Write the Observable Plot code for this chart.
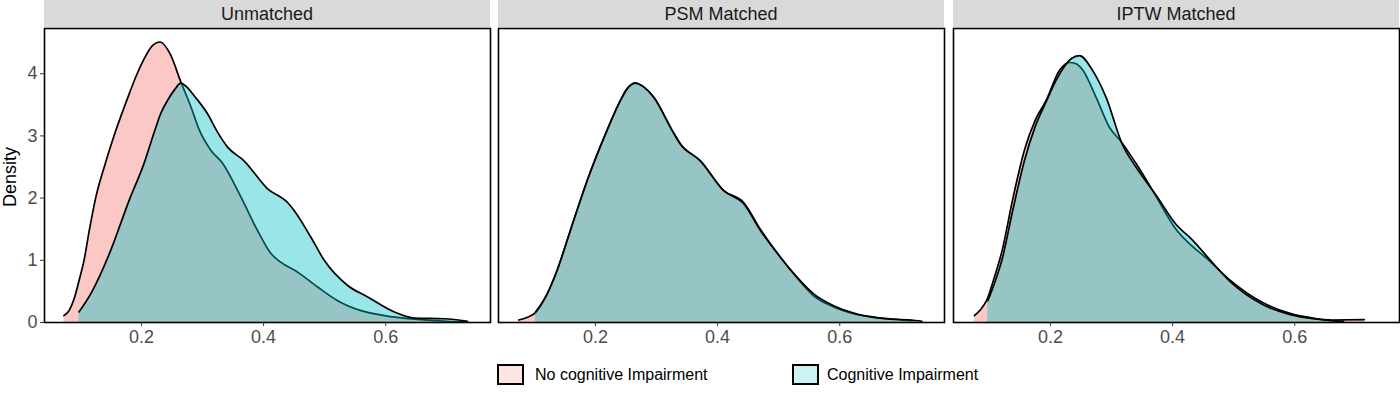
<!DOCTYPE html>
<html>
<head>
<meta charset="utf-8">
<script src="https://cdn.jsdelivr.net/npm/d3@7"></script>
<script src="https://cdn.jsdelivr.net/npm/@observablehq/plot@0.6"></script>
<style>
  html, body { margin: 0; padding: 0; background: #fff; }
  #chart { position: relative; width: 1400px; height: 395px; font-family: "Liberation Sans", Arial, Helvetica, sans-serif; }
  .strip { position: absolute; top: 0; height: 27px; background: #d9d9d9; color: #1a1a1a; font-size: 18px; line-height: 28px; text-align: center; }
  .ylab { position: absolute; left: 10px; top: 177px; transform: translate(-50%, -50%) rotate(-90deg); font-size: 18px; color: #000; white-space: nowrap; }
  .key { position: absolute; top: 364px; width: 27px; height: 21px; box-sizing: border-box; border: 2px solid #000; }
  .ktext { position: absolute; top: 364px; height: 21px; line-height: 21px; font-size: 16px; color: #000; white-space: nowrap; }
</style>
</head>
<body>
<div id="chart"></div>
<script>
// ---- data ----
const panels = ["Unmatched", "PSM Matched", "IPTW Matched"];
const groups = ["No cognitive Impairment", "Cognitive Impairment"];
const groupColors = ["#F8766D", "#00BFC4"];
const xTicks = [0.2, 0.4, 0.6];
const yTicks = [0, 1, 2, 3, 4];
const xDomain = [0.0413, 0.7715];
const yDomain = [0, 4.727];

// Unmatched
const unmatchedNoX = [0.073,0.0813,0.0907,0.098,0.106,0.115,0.125,0.14,0.155,0.174,0.193,0.204,0.218,0.2305,0.2474,0.2644,0.281,0.2945,0.3136,0.3328,0.3628,0.390,0.412,0.428,0.4557,0.4885,0.5213,0.5595,0.5977,0.652,0.70,0.73];
const unmatchedNoY = [0.11,0.19,0.41,0.68,1.0,1.5,2.0,2.53,3.0,3.52,4.0,4.23,4.45,4.51,4.31,3.87,3.47,3.10,2.77,2.56,2.02,1.48,1.11,0.97,0.81,0.57,0.35,0.19,0.11,0.05,0.02,0.01];
const unmatchedCiX = [0.0977,0.117,0.1497,0.1797,0.204,0.222,0.2316,0.2426,0.254,0.2644,0.275,0.286,0.308,0.3246,0.341,0.368,0.4066,0.4393,0.450,0.4775,0.4993,0.5377,0.5705,0.614,0.647,0.696,0.734];
const unmatchedCiY = [0.17,0.46,1.16,1.96,2.55,3.09,3.36,3.57,3.74,3.85,3.78,3.65,3.36,3.06,2.82,2.60,2.15,1.93,1.80,1.37,1.00,0.595,0.41,0.17,0.07,0.06,0.02];

// PSM matched
const psmNoX = [0.0745,0.09,0.102,0.121,0.1373,0.159,0.1864,0.219,0.241,0.252,0.2655,0.28,0.2955,0.3255,0.339,0.3718,0.41,0.4427,0.470,0.5028,0.530,0.5573,0.590,0.6228,0.6664,0.72];
const psmNoY = [0.04,0.09,0.16,0.46,0.84,1.48,2.28,3.09,3.57,3.76,3.85,3.78,3.62,3.09,2.87,2.60,2.12,1.93,1.50,1.05,0.72,0.43,0.25,0.14,0.07,0.03];
const psmCiX = [0.102,0.121,0.1373,0.159,0.1864,0.219,0.241,0.252,0.2655,0.28,0.2955,0.3255,0.339,0.3718,0.41,0.4427,0.470,0.5028,0.530,0.5573,0.590,0.6228,0.6664,0.7155,0.7346];
const psmCiY = [0.17,0.46,0.84,1.48,2.28,3.09,3.57,3.76,3.85,3.78,3.62,3.09,2.87,2.60,2.12,1.91,1.48,1.05,0.73,0.46,0.27,0.15,0.07,0.04,0.02];

// IPTW matched
const iptwNoX = [0.0756,0.085,0.0953,0.108,0.121,0.1378,0.1574,0.175,0.193,0.2147,0.231,0.242,0.2529,0.2748,0.2966,0.318,0.329,0.340,0.3728,0.4055,0.433,0.4548,0.493,0.5475,0.591,0.63,0.66,0.714];
const iptwNoY = [0.11,0.20,0.35,0.72,1.16,1.96,2.77,3.25,3.57,4.05,4.18,4.16,4.06,3.62,3.14,2.88,2.72,2.56,2.03,1.50,1.22,1.04,0.69,0.32,0.15,0.07,0.04,0.045];
const iptwCiX = [0.0975,0.108,0.121,0.1378,0.1574,0.175,0.193,0.209,0.2339,0.2475,0.2692,0.2911,0.3183,0.340,0.3728,0.4055,0.433,0.4548,0.493,0.5475,0.591,0.63,0.66,0.68];
const iptwCiY = [0.35,0.62,1.02,1.78,2.60,3.15,3.55,3.89,4.24,4.29,4.05,3.62,2.85,2.50,2.05,1.58,1.32,1.08,0.67,0.29,0.13,0.06,0.03,0.02];

const series = [
  [[unmatchedNoX, unmatchedNoY], [unmatchedCiX, unmatchedCiY]],
  [[psmNoX, psmNoY], [psmCiX, psmCiY]],
  [[iptwNoX, iptwNoY], [iptwCiX, iptwCiY]]
];

// ---- layout ----
const panelLeft = [44, 498, 953];
const panelWidth = 446;
const panelHeight = 294;
const chart = document.getElementById("chart");

panels.forEach((name, i) => {
  const strip = document.createElement("div");
  strip.className = "strip";
  strip.style.left = panelLeft[i] + "px";
  strip.style.width = panelWidth + "px";
  strip.textContent = name;
  chart.appendChild(strip);

  const ml = i === 0 ? 44 : 0;
  const marks = [];
  groups.forEach((g, k) => {
    const [xs, ys] = series[i][k];
    const rows = xs.map((x, j) => ({x, y: ys[j], group: g}));
    marks.push(Plot.areaY(rows, {x: "x", y: "y", fill: groupColors[k], fillOpacity: 0.4, curve: "monotone-x"}));
    marks.push(Plot.lineY(rows, {x: "x", y: "y", stroke: "#000", strokeWidth: 1.7, curve: "monotone-x"}));
  });
  marks.push(Plot.frame({stroke: "#000", strokeWidth: 1.6}));
  marks.push(Plot.axisX({ticks: xTicks, tickFormat: d => d.toFixed(1), tickSize: 4, tickPadding: 4, fontSize: 18, fill: "#4d4d4d", stroke: "#333", label: null}));
  if (i === 0) {
    marks.push(Plot.axisY({ticks: yTicks, tickFormat: d => String(d), tickSize: 4, tickPadding: 3, fontSize: 18, fill: "#4d4d4d", stroke: "#333", label: null}));
  }
  const svg = Plot.plot({
    width: ml + panelWidth,
    height: panelHeight + 40,
    marginLeft: ml, marginRight: 0, marginTop: 0, marginBottom: 40,
    style: {overflow: "visible", background: "transparent", fontFamily: '"Liberation Sans", Arial, Helvetica, sans-serif'},
    x: {domain: xDomain},
    y: i === 0 ? {domain: yDomain} : {domain: yDomain, axis: null},
    marks
  });
  svg.style.position = "absolute";
  svg.style.top = "28px";
  svg.style.left = (panelLeft[i] - ml) + "px";
  chart.appendChild(svg);
});

const ylab = document.createElement("div");
ylab.className = "ylab";
ylab.textContent = "Density";
chart.appendChild(ylab);

const keyLeft = [497, 792];
const textLeft = [535, 827];
groups.forEach((g, k) => {
  const key = document.createElement("div");
  key.className = "key";
  key.style.left = keyLeft[k] + "px";
  const c = d3.color(groupColors[k]); c.opacity = 0.2;
  key.style.background = c.formatRgb();
  chart.appendChild(key);
  const t = document.createElement("div");
  t.className = "ktext";
  t.style.left = textLeft[k] + "px";
  t.textContent = g;
  chart.appendChild(t);
});
</script>
</body>
</html>
